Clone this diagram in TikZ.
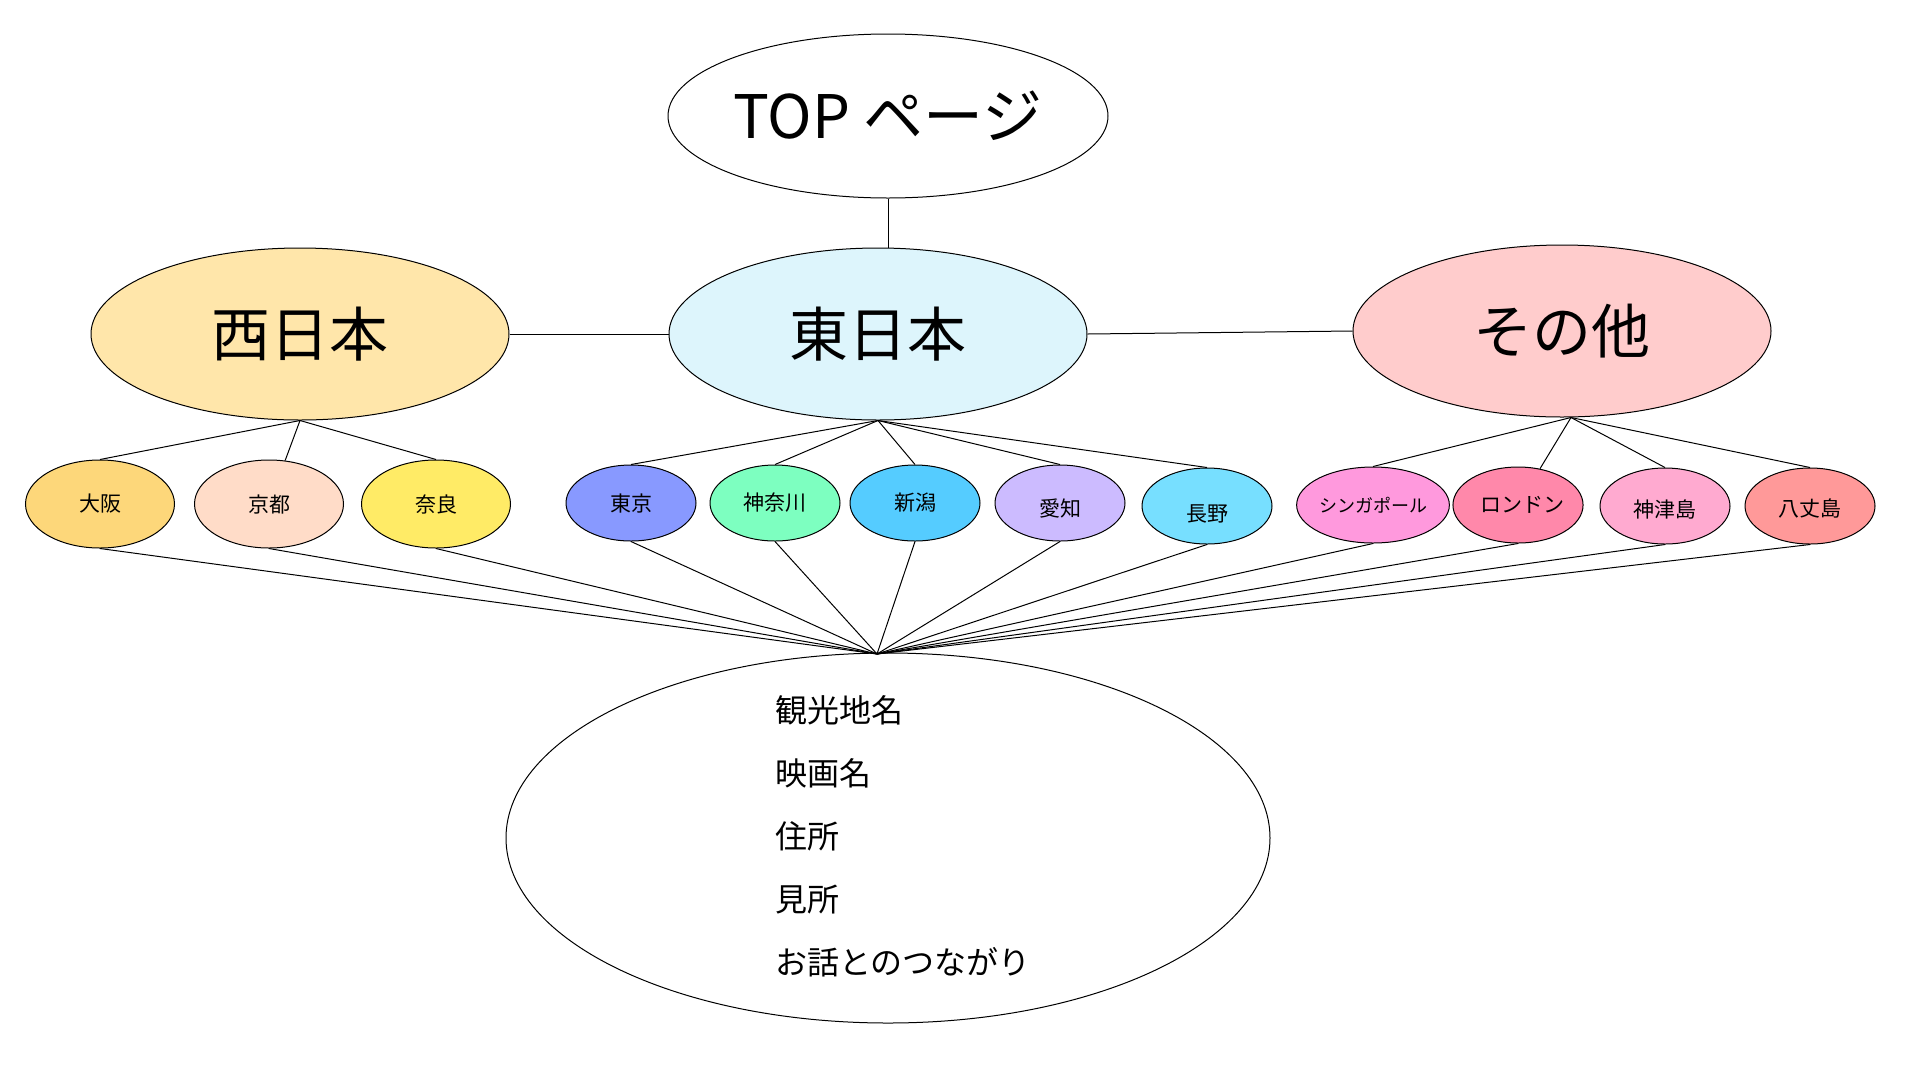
\documentclass[tikz,border=0pt]{standalone}
\usepackage{fontspec}
\newfontfamily\jp{Noto Sans CJK JP}
\usetikzlibrary{shapes.geometric}
\definecolor{cwest}{HTML}{FFE6AA}
\definecolor{ceast}{HTML}{DDF5FC}
\definecolor{cother}{HTML}{FFCCCC}
\definecolor{cosaka}{HTML}{FDD77A}
\definecolor{ckyoto}{HTML}{FFDCC8}
\definecolor{cnara}{HTML}{FFEB66}
\definecolor{ctokyo}{HTML}{8899FF}
\definecolor{ckana}{HTML}{7DFFC0}
\definecolor{cniigata}{HTML}{55CCFF}
\definecolor{caichi}{HTML}{CCBBFF}
\definecolor{cnagano}{HTML}{77DFFF}
\definecolor{csing}{HTML}{FF99DD}
\definecolor{clondon}{HTML}{FF88AA}
\definecolor{ckozu}{HTML}{FFAAD0}
\definecolor{chachi}{HTML}{FF9999}
\newcommand{\lowered}[2]{\vphantom{#2}\smash{\raisebox{-#1}{#2}}}
\tikzset{
  oval/.style={ellipse, draw=black, line width=1pt, inner sep=0pt, font=\jp},
  bigoval/.style={oval, minimum width=418pt, minimum height=172pt, font={\jp\fontsize{59}{70}\selectfont}},
  westsmall/.style={oval, minimum width=149pt, minimum height=88pt, font={\jp\fontsize{21}{25}\selectfont}},
  small/.style={oval, minimum width=130pt, minimum height=76pt, font={\jp\fontsize{21}{25}\selectfont}},
  link/.style={draw=black, line width=1pt},
}
\begin{document}
\begin{tikzpicture}[x=1pt,y=-1pt]
\useasboundingbox (0,0) rectangle (1920,1080);
\fill[white] (0,0) rectangle (1920,1080);

\node[oval, minimum width=440pt, minimum height=164pt, font={\jp\fontsize{60}{70}\selectfont}] (top) at (888,116) {TOP ページ};
\node[bigoval, fill=cwest] (west) at (300,334) {西日本};
\node[bigoval, fill=ceast] (east) at (878,334) {東日本};
\node[bigoval, fill=cother] (other) at (1562,331) {その他};

\node[westsmall, fill=cosaka] (osaka) at (100,504) {大阪};
\node[westsmall, fill=ckyoto] (kyoto) at (269,504) {京都};
\node[westsmall, fill=cnara] (nara) at (436,504) {奈良};

\node[small, fill=ctokyo] (tokyo) at (631,503) {東京};
\node[small, fill=ckana] (kana) at (775,503) {神奈川};
\node[small, fill=cniigata] (niigata) at (915,503) {新潟};
\node[small, fill=caichi] (aichi) at (1060,503) {\lowered{6pt}{愛知}};
\node[small, fill=cnagano] (nagano) at (1207,506) {\lowered{8pt}{長野}};

\node[small, fill=csing, font={\jp\fontsize{18}{22}\selectfont}] (sing) at (1373,505) {シンガポール};
\node[small, fill=clondon] (london) at (1518,505) {\hspace*{8pt}ロンドン};
\node[small, fill=ckozu] (kozu) at (1665,506) {\lowered{3pt}{神津島}};
\node[small, fill=chachi] (hachi) at (1810,506) {\lowered{2pt}{八丈島}};

\node[oval, minimum width=764pt, minimum height=370pt] (detail) at (888,838) {};
\node[font={\jp\fontsize{32}{63}\selectfont}, align=left, anchor=west, inner sep=0pt] (detailtext) at (775,836) {観光地名\\映画名\\住所\\見所\\お話とのつながり};

\coordinate (hub) at (877,654);
\coordinate (otherapex) at ([xshift=9pt]other.south);

\path[link] (top.south) -- (top.south |- east.north);
\path[link] (west.east) -- (east.west);
\path[link] (east.east) -- (other.west);

\path[link] (west.south) -- (osaka.north);
\path[link] (west.south) -- (kyoto);
\path[link] (west.south) -- (nara.north);

\foreach \n in {tokyo,kana,niigata,aichi,nagano}
  \path[link] (east.south) -- (\n.north);

\path[link] (otherapex) -- (sing.north);
\path[link] (otherapex) -- (london);
\path[link] (otherapex) -- (kozu.north);
\path[link] (otherapex) -- (hachi.north);

\foreach \n in {osaka,kyoto,nara,tokyo,kana,niigata,aichi,nagano,sing,london,kozu,hachi}
  \path[link] (\n.south) -- (hub);
\end{tikzpicture}
\end{document}
